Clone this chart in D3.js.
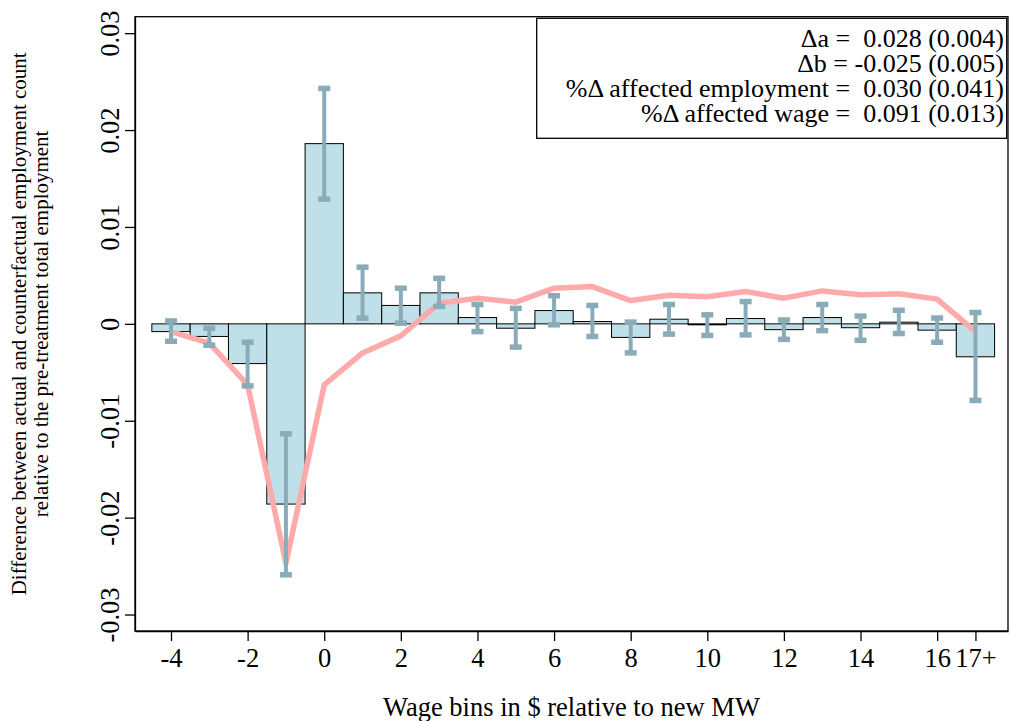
<!DOCTYPE html>
<html>
<head>
<meta charset="utf-8">
<script src="https://cdn.jsdelivr.net/npm/d3@7"></script>
<style>
    body { margin: 0; background: #fff; }
    svg text { font-family: "Liberation Serif", "Times New Roman", serif; fill: #000; }
</style>
</head>
<body>
<div id="canvas"></div>
<script>
// Data
const bins = [-4, -3, -2, -1, 0, 1, 2, 3, 4, 5, 6, 7, 8, 9, 10, 11, 12, 13, 14, 15, 16, 17];
const barValues = [-0.0008, -0.0013, -0.0041, -0.0186, 0.0186, 0.0032, 0.0019, 0.0032, 0.00065, -0.00045, 0.00137,
    0.00024, -0.0014, 0.00048, -0.0001, 0.00055, -0.0006, 0.00065, -0.0004, 0.00017, -0.00065, -0.0034];
const ciUpper = [0.0003, -0.00045, -0.0019, -0.01135, 0.0243, 0.00585, 0.00368, 0.0047, 0.0020, 0.0016, 0.0029,
    0.0019, 0.00018, 0.002, 0.00093, 0.0023, 0.0004, 0.002, 0.0008, 0.0014, 0.0006, 0.00117];
const ciLower = [-0.0018, -0.0022, -0.0064, -0.0259, 0.01287, 0.00059, 0.00007, 0.0018, -0.0008, -0.0024, -0.0001,
    -0.0013, -0.003, -0.00106, -0.0012, -0.00114, -0.0016, -0.0007, -0.0017, -0.001, -0.0019, -0.0079];
const lineValues = [-0.0008, -0.002, -0.0063, -0.0247, -0.0063, -0.003, -0.00124, 0.00213, 0.00265, 0.00224, 0.00368,
    0.00385, 0.0024, 0.00296, 0.0028, 0.00333, 0.00265, 0.0034, 0.003, 0.0031, 0.00255, -0.0008];
const xTicks = [-4, -2, 0, 2, 4, 6, 8, 10, 12, 14, 16, 17];
const yTicks = [-0.03, -0.02, -0.01, 0, 0.01, 0.02, 0.03];
const legendLines = [
    "\u0394a =  0.028 (0.004)",
    "\u0394b = -0.025 (0.005)",
    "%\u0394 affected employment =  0.030 (0.041)",
    "%\u0394 affected wage =  0.091 (0.013)"
];

var W = 1010, H = 721;
var pLeft = 135, pRight = 1008, pTop = 16.7, pBottom = 631;

var svg = d3.select("div#canvas").append("svg")
    .attr("width", W)
    .attr("height", H);

var x = d3.scaleLinear().domain([-4.94, 17.85]).range([pLeft, pRight]);
var y = d3.scaleLinear().domain([-0.0317, 0.0317]).range([pBottom, pTop]);
var bw = x(0.5) - x(-0.5);

let rows = bins.map(function(b, i) {
    return { bin: b, v: barValues[i], hi: ciUpper[i], lo: ciLower[i], line: lineValues[i] };
});

// bars
svg.append("g").selectAll("rect")
    .data(rows)
    .enter().append("rect")
    .attr("x", function(d) { return x(d.bin) - bw / 2; })
    .attr("width", bw)
    .attr("y", function(d) { return y(Math.max(0, d.v)); })
    .attr("height", function(d) { return Math.abs(y(d.v) - y(0)); })
    .attr("fill", "#bfe0e9")
    .attr("stroke", "#000")
    .attr("stroke-width", 1);

// counterfactual line
svg.append("path")
    .datum(rows)
    .attr("fill", "none")
    .attr("stroke", "#ffaaaa")
    .attr("stroke-width", 5.5)
    .attr("stroke-linejoin", "round")
    .attr("d", d3.line()
        .x(function(d) { return x(d.bin); })
        .y(function(d) { return y(d.line); }));

// error bars
var eb = svg.append("g").selectAll("g")
    .data(rows)
    .enter().append("g")
    .attr("stroke", "#8aacb8");

eb.append("line")
    .attr("x1", function(d) { return x(d.bin); })
    .attr("x2", function(d) { return x(d.bin); })
    .attr("y1", function(d) { return y(d.hi); })
    .attr("y2", function(d) { return y(d.lo); })
    .attr("stroke-width", 4);

["hi", "lo"].forEach(function(k) {
    eb.append("line")
        .attr("x1", function(d) { return x(d.bin) - 6; })
        .attr("x2", function(d) { return x(d.bin) + 6; })
        .attr("y1", function(d) { return y(d[k]); })
        .attr("y2", function(d) { return y(d[k]); })
        .attr("stroke-width", 5.5);
});

// frame
svg.append("rect")
    .attr("x", pLeft).attr("y", pTop)
    .attr("width", pRight - pLeft).attr("height", pBottom - pTop)
    .attr("fill", "none")
    .attr("stroke", "#000")
    .attr("stroke-width", 1.3);

// axes
var xAxis = svg.append("g")
    .attr("transform", "translate(0," + pBottom + ")")
    .call(d3.axisBottom(x)
        .tickValues(xTicks)
        .tickSize(10)
        .tickSizeOuter(0)
        .tickPadding(7)
        .tickFormat(function(d) { return d === 17 ? "17+" : String(d); }));
xAxis.select(".domain").attr("stroke-width", 1.3);
xAxis.selectAll(".tick line").attr("stroke-width", 1.3);
xAxis.selectAll("text")
    .attr("font-size", 26.5)
    .attr("font-family", "Liberation Serif");

var yAxis = svg.append("g")
    .attr("transform", "translate(" + pLeft + ",0)")
    .call(d3.axisLeft(y)
        .tickValues(yTicks)
        .tickSize(10)
        .tickSizeOuter(0)
        .tickFormat(function(d) { return d === 0 ? "0" : d.toFixed(2); }));
yAxis.select(".domain").attr("stroke-width", 1.3);
yAxis.selectAll(".tick line").attr("stroke-width", 1.3);
yAxis.selectAll("text")
    .attr("font-size", 26.5)
    .attr("font-family", "Liberation Serif")
    .attr("transform", "rotate(-90)")
    .attr("text-anchor", "middle")
    .attr("x", 0)
    .attr("y", -16)
    .attr("dy", null);

// axis titles
svg.append("text")
    .attr("x", (pLeft + pRight) / 2)
    .attr("y", 716)
    .attr("text-anchor", "middle")
    .attr("font-size", 26.5)
    .text("Wage bins in $ relative to new MW");

var yt = svg.append("text")
    .attr("transform", "translate(26," + (pTop + pBottom) / 2 + ") rotate(-90)")
    .attr("text-anchor", "middle")
    .attr("font-size", 21);
yt.append("tspan").attr("x", 0).attr("y", 0)
    .text("Difference between actual and counterfactual employment count");
yt.append("tspan").attr("x", 0).attr("y", 22)
    .text("relative to the pre-treatment total employment");

// legend box
svg.append("rect")
    .attr("x", 536.7).attr("y", 18.3)
    .attr("width", 470).attr("height", 120)
    .attr("fill", "#fff")
    .attr("stroke", "#000")
    .attr("stroke-width", 1.3);

svg.append("g").selectAll("text")
    .data(legendLines)
    .enter().append("text")
    .attr("x", 1004)
    .attr("y", function(d, i) { return 46.7 + i * 25.2; })
    .attr("text-anchor", "end")
    .attr("font-size", 26)
    .style("white-space", "pre")
    .text(function(d) { return d; });
</script>
</body>
</html>
